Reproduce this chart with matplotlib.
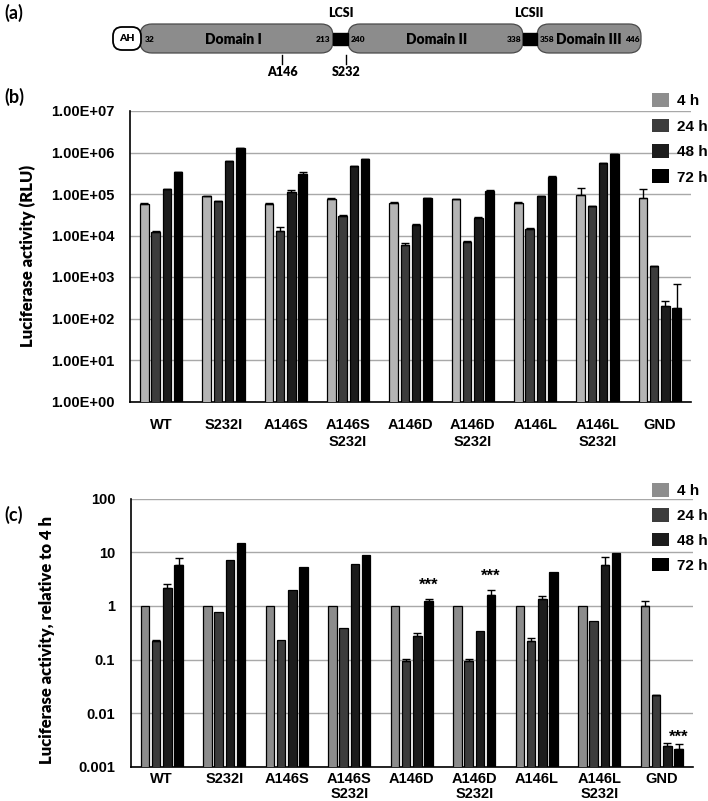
import matplotlib
matplotlib.use("Agg")
from matplotlib import pyplot as plt
from matplotlib.patches import FancyBboxPatch, Rectangle, Patch
import numpy as np

CATEGORIES = ["WT", "S232I", "A146S", "A146S\nS232I", "A146D", "A146D\nS232I",
              "A146L", "A146L\nS232I", "GND"]
TIMES = ["4 h", "24 h", "48 h", "72 h"]

# panel (b) raw luciferase activity (RLU)
RLU_4H = [5.9e4, 8.8e4, 5.9e4, 7.7e4, 6.2e4, 7.5e4, 6.2e4, 9.5e4, 8.2e4]
RLU_24H = [1.2e4, 6.6e4, 1.26e4, 2.95e4, 6.0e3, 6.9e3, 1.44e4, 5.0e4, 1.8e3]
RLU_48H = [1.3e5, 6.2e5, 1.1e5, 4.6e5, 1.76e4, 2.6e4, 8.8e4, 5.5e5, 1.95e2]
RLU_72H = [3.3e5, 1.28e6, 3.1e5, 6.9e5, 7.9e4, 1.2e5, 2.6e5, 9.2e5, 1.75e2]
RLU_ERR_4H = [1e3, 2e3, 1e3, 2e3, 1e3, 1e3, 1e3, 4.8e4, 4.8e4]
RLU_ERR_24H = [1e3, 1e3, 3.5e3, 1e3, 5e2, 3e2, 8e2, 1e3, 50]
RLU_ERR_48H = [5e3, 1e4, 1.5e4, 1e4, 1e3, 2e3, 3e3, 1e4, 65]
RLU_ERR_72H = [1e4, 3e4, 3e4, 2e4, 2e3, 3e3, 5e3, 2e4, 5.2e2]

# panel (c) relative to 4 h
REL_4H = [1.0, 1.0, 1.0, 1.0, 1.0, 1.0, 1.0, 1.0, 1.0]
REL_24H = [0.22, 0.76, 0.23, 0.38, 0.095, 0.093, 0.225, 0.525, 0.0214]
REL_48H = [2.17, 7.05, 1.94, 6.0, 0.27, 0.34, 1.37, 5.9, 0.0024]
REL_72H = [5.7, 14.8, 5.3, 9.0, 1.26, 1.58, 4.2, 9.8, 0.00216]
REL_ERR_4H = [0, 0, 0, 0, 0, 0, 0, 0, 0.22]
REL_ERR_24H = [0.01, 0, 0, 0, 0.008, 0.008, 0.025, 0, 0.0008]
REL_ERR_48H = [0.43, 0, 0, 0, 0.04, 0, 0.13, 2.2, 0.0004]
REL_ERR_72H = [2.0, 0, 0, 0, 0.07, 0.38, 0, 0, 0.00045]
STARS_72H = ["", "", "", "", "***", "***", "", "", "***"]

COLORS_B = ["#b4b4b4", "#3c3c3c", "#1c1c1c", "#000000"]
COLORS_C = ["#8c8c8c", "#3c3c3c", "#1c1c1c", "#000000"]
LEGEND_COLORS = ["#8e8e8e", "#3c3c3c", "#1c1c1c", "#000000"]

TICK_FONT = ["Liberation Sans", "DejaVu Sans"]
LABEL_FONT = ["Lato", "DejaVu Sans"]

W, H = 708, 801
fig = plt.figure(figsize=(W / 100, H / 100), dpi=100)

STEP = 0.18
WIDTH = 0.137
OFFSETS = (np.arange(4) - 1.5) * STEP
x = np.arange(len(CATEGORIES))


def bar_panel(ax, series, errors, colors, ylim, ticklabels, xpad, lsp):
    for i, (vals, errs) in enumerate(zip(series, errors)):
        vals = np.array(vals)
        errs = np.array(errs)
        ax.bar(x + OFFSETS[i], vals, WIDTH, color=colors[i], edgecolor="black",
               linewidth=0.9, zorder=3)
        m = errs > 0
        ax.errorbar(x[m] + OFFSETS[i], vals[m],
                    yerr=[np.zeros(m.sum()), errs[m]], fmt="none",
                    ecolor="black", elinewidth=1.0, capsize=3, capthick=1.0,
                    zorder=4)
    ax.set_yscale("log")
    ax.set_ylim(*ylim)
    ax.set_xlim(-0.5, len(CATEGORIES) - 0.5)
    ticks = np.logspace(np.log10(ylim[0]), np.log10(ylim[1]), len(ticklabels))
    ax.set_yticks(ticks)
    ax.set_yticklabels(ticklabels)
    ax.yaxis.set_minor_locator(matplotlib.ticker.NullLocator())
    ax.set_xticks(x)
    ax.set_xticklabels(CATEGORIES, linespacing=lsp)
    for lab in ax.get_xticklabels() + ax.get_yticklabels():
        lab.set_fontfamily(TICK_FONT)
        lab.set_fontweight("bold")
        lab.set_fontsize(10.5)
    ax.tick_params(axis="y", length=0, pad=11)
    ax.tick_params(axis="x", length=0, pad=xpad)
    ax.grid(axis="y", color="#a8a8a8", linewidth=1.0, zorder=0)
    for s in ["top", "right"]:
        ax.spines[s].set_visible(False)
    ax.spines["left"].set_linewidth(1.2)
    ax.spines["bottom"].set_linewidth(1.2)
    handles = [Patch(facecolor=c, edgecolor="none") for c in LEGEND_COLORS]
    return handles


# ---- panel (a): domain diagram
ax_a = fig.add_axes([0, 1 - 82 / H, 1, 82 / H])
ax_a.set_xlim(0, W)
ax_a.set_ylim(82, 0)
ax_a.axis("off")

dom_col = "#8c8c8c"
dom_edge = "#4a4a4a"
domains = [(140, 333, "Domain I"), (348, 523, "Domain II"), (537, 641, "Domain III")]
for x0, x1, name in domains:
    ax_a.add_patch(FancyBboxPatch((x0, 24), x1 - x0, 29,
                                  boxstyle="round,pad=0,rounding_size=12",
                                  facecolor=dom_col, edgecolor=dom_edge, linewidth=0.9))
ax_a.add_patch(FancyBboxPatch((113, 27), 28, 23, boxstyle="round,pad=0,rounding_size=9",
                              facecolor="white", edgecolor="black", linewidth=1.3, zorder=3))
ax_a.text(127, 38.5, "AH", ha="center", va="center", fontsize=7.5, fontweight="heavy",
          family=LABEL_FONT, zorder=4)
for x0, x1 in [(333, 348), (523, 537)]:
    ax_a.add_patch(Rectangle((x0, 33), x1 - x0, 12, facecolor="black", edgecolor="black"))

for xx, name in [(233, "Domain I"), (437, "Domain II"), (589, "Domain III")]:
    ax_a.text(xx, 39, name, ha="center", va="center", fontsize=10, fontweight="heavy",
              family=LABEL_FONT)
for xx, s, ha in [(145, "32", "left"), (330, "213", "right"), (351, "240", "left"),
                  (521, "338", "right"), (540, "358", "left"), (640, "446", "right")]:
    ax_a.text(xx, 40, s, ha=ha, va="center", fontsize=6, fontweight="heavy",
              family=LABEL_FONT)
ax_a.text(341, 13, "LCSI", ha="center", va="center", fontsize=9, fontweight="heavy",
          family=LABEL_FONT)
ax_a.text(529, 13, "LCSII", ha="center", va="center", fontsize=9, fontweight="heavy",
          family=LABEL_FONT)
for xx, s in [(282, "A146"), (346, "S232")]:
    ax_a.plot([xx, xx], [55, 64], color="black", linewidth=1.0)
    ax_a.text(xx, 72, s, ha="center", va="center", fontsize=9, fontweight="heavy",
              family=LABEL_FONT)

LEGEND_KW = dict(loc="upper left", frameon=False, handlelength=1.1, handleheight=1.0,
                 handletextpad=0.5, borderaxespad=0,
                 prop={"family": TICK_FONT, "weight": "bold", "size": 11})

# ---- panel (b)
ax_b = fig.add_axes([130 / W, 1 - 401.5 / H, 561 / W, 290.5 / H])
handles = bar_panel(ax_b, [RLU_4H, RLU_24H, RLU_48H, RLU_72H],
                    [RLU_ERR_4H, RLU_ERR_24H, RLU_ERR_48H, RLU_ERR_72H],
                    COLORS_B, (1, 1e7),
                    ["1.00E+00", "1.00E+01", "1.00E+02", "1.00E+03", "1.00E+04",
                     "1.00E+05", "1.00E+06", "1.00E+07"], 12, 1.3)
fig.legend(handles, TIMES, bbox_to_anchor=(646 / W, 1 - 87 / H), labelspacing=0.68,
           **LEGEND_KW)
fig.text(28 / W, 1 - 256 / H, "Luciferase activity (RLU)", rotation=90, ha="center",
         va="center", fontsize=12, fontweight="heavy", family=LABEL_FONT)

# ---- panel (c)
ax_c = fig.add_axes([130.5 / W, 1 - 766.7 / H, 562.5 / W, 268 / H])
handles = bar_panel(ax_c, [REL_4H, REL_24H, REL_48H, REL_72H],
                    [REL_ERR_4H, REL_ERR_24H, REL_ERR_48H, REL_ERR_72H],
                    COLORS_C, (0.001, 100),
                    ["0.001", "0.01", "0.1", "1", "10", "100"], 4, 1.05)
for i, s in enumerate(STARS_72H):
    if s:
        top = REL_72H[i] + REL_ERR_72H[i]
        ax_c.annotate(s, (x[i] + OFFSETS[3], top), xytext=(0, 5 if i < 8 else 0),
                      textcoords="offset points", ha="center", va="bottom",
                      fontsize=12, fontweight="bold", family=TICK_FONT)
fig.legend(handles, TIMES, bbox_to_anchor=(646 / W, 1 - 477 / H), labelspacing=0.64,
           **LEGEND_KW)
fig.text(47 / W, 1 - 640 / H, "Luciferase activity, relative to 4 h", rotation=90,
         ha="center", va="center", fontsize=12, fontweight="heavy", family=LABEL_FONT)

# panel letters
for yy, s in [(13, "(a)"), (97, "(b)"), (515, "(c)")]:
    fig.text(4 / W, 1 - yy / H, s, ha="left", va="center", fontsize=13,
             fontweight="bold", family=LABEL_FONT)

fig.savefig("out.png", dpi=100)
